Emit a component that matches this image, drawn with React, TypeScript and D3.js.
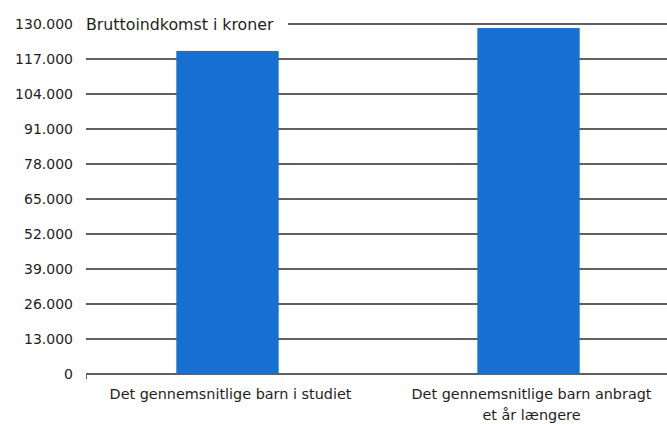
import React from "react";
import * as d3 from "d3";

const categories = [
  ["Det gennemsnitlige barn i studiet"],
  ["Det gennemsnitlige barn anbragt", "et år længere"],
];
const values = [120000, 128500];
const yTicks = [0, 13000, 26000, 39000, 52000, 65000, 78000, 91000, 104000, 117000, 130000];
const axisTitle = "Bruttoindkomst i kroner";

const W = 667;
const H = 424;
const FONT = "'DejaVu Sans', sans-serif";

export default function App() {
  const y = d3.scaleLinear().domain([0, 130000]).range([374, 24]);
  const x = d3
    .scaleBand<number>()
    .domain(categories.map((_, i) => i))
    .range([77, 679])
    .paddingInner(0.66)
    .paddingOuter(0.33);

  const fmt = (v: number) => d3.format(",")(v).replace(/,/g, ".");

  return (
    <svg
      width={W}
      height={H}
      style={{ position: "absolute", left: 0, top: 0, background: "#fff" }}
      fontFamily={FONT}
    >
      {/* gridlines */}
      {yTicks.map((t) => (
        <line
          key={t}
          x1={t === 130000 ? 288 : 86}
          x2={W}
          y1={y(t)}
          y2={y(t)}
          stroke="#2b2b2b"
          strokeWidth={1.4}
        />
      ))}
      <line x1={86.5} x2={86.5} y1={y(0)} y2={y(0) + 5} stroke="#666" strokeWidth={1} />

      {/* tick labels */}
      {yTicks.map((t) => (
        <text
          key={t}
          x={73}
          y={y(t)}
          dy="0.36em"
          textAnchor="end"
          fontSize={14}
          fill="#1e1e1e"
        >
          {fmt(t)}
        </text>
      ))}
      <text x={86} y={y(130000)} dy="0.36em" fontSize={15.8} fill="#1e1e1e">
        {axisTitle}
      </text>

      {/* bars */}
      {values.map((v, i) => (
        <rect
          key={i}
          x={x(i)}
          width={x.bandwidth()}
          y={y(v)}
          height={y(0) - y(v)}
          fill="#1670d2"
        />
      ))}

      {/* category labels */}
      {categories.map((lines, i) => {
        const cx = (x(i) as number) + x.bandwidth() / 2 + 3;
        return (
          <text key={i} x={cx} y={399} textAnchor="middle" fontSize={14.4} fill="#1e1e1e">
            {lines.map((l, j) => (
              <tspan key={j} x={cx} dy={j === 0 ? 0 : 21}>
                {l}
              </tspan>
            ))}
          </text>
        );
      })}
    </svg>
  );
}
